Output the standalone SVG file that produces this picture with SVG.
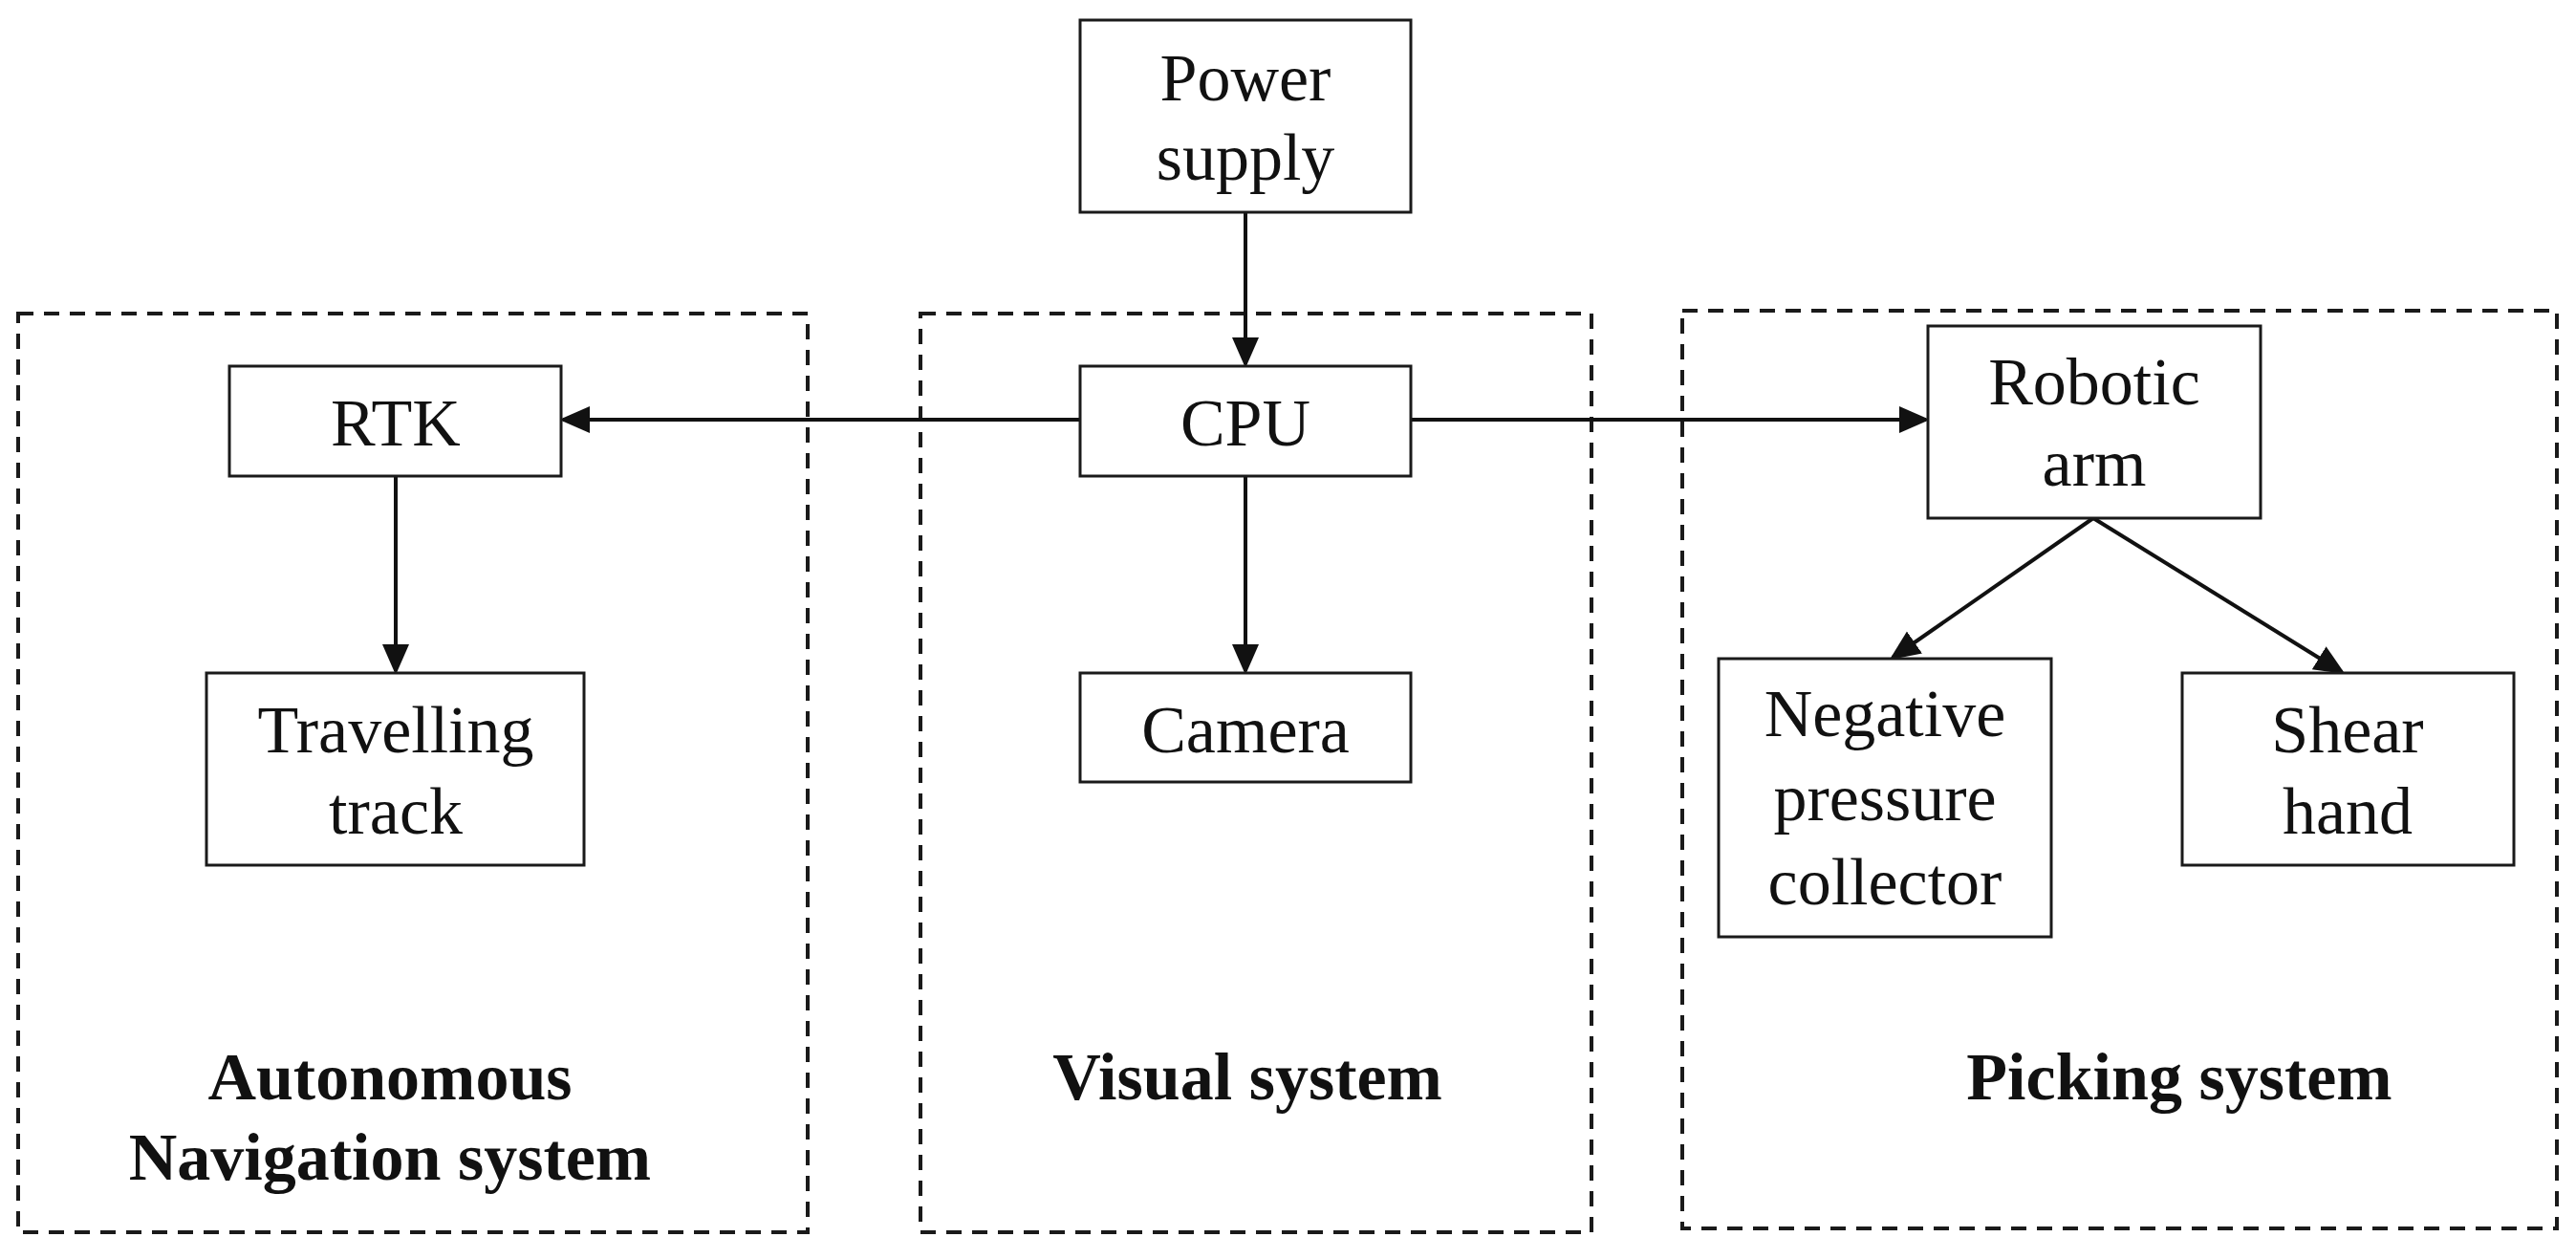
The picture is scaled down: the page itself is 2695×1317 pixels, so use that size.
<svg xmlns="http://www.w3.org/2000/svg" width="2695" height="1317" viewBox="0 0 2695 1317">
<style>
.n{fill:#fff;stroke:#1a1a1a;stroke-width:3}
.g{fill:none;stroke:#1a1a1a;stroke-width:4;stroke-dasharray:16 11}
.t{font-family:"Liberation Serif",serif;font-size:70px;fill:#111;text-anchor:middle}
.b{font-family:"Liberation Serif",serif;font-size:70px;font-weight:bold;fill:#111;text-anchor:middle}
.c{stroke:#111;stroke-width:4;fill:none;marker-end:url(#a)}
</style>
<defs><marker id="a" markerWidth="8" markerHeight="8" refX="7" refY="4" orient="auto" markerUnits="strokeWidth"><path d="M0,0.5 L8,4 L0,7.5 Z" fill="#111"/></marker></defs>
<rect width="2695" height="1317" fill="#fff"/>
<g id="group-nav"><rect class="g" x="19" y="328" width="826" height="961"/><text class="b" x="408" y="1150">Autonomous</text><text class="b" x="408" y="1234">Navigation system</text></g>
<g id="group-visual"><rect class="g" x="963" y="328" width="702" height="961"/><text class="b" x="1305" y="1150">Visual system</text></g>
<g id="group-picking"><rect class="g" x="1760" y="325" width="915" height="960"/><text class="b" x="2280" y="1150">Picking system</text></g>
<g id="connectors">
<line class="c" x1="1303" y1="222" x2="1303" y2="381"/>
<line class="c" x1="1130" y1="439" x2="589" y2="439"/>
<line class="c" x1="1476" y1="439" x2="2015" y2="439"/>
<line class="c" x1="414" y1="498" x2="414" y2="702"/>
<line class="c" x1="1303" y1="498" x2="1303" y2="702"/>
<line class="c" x1="2190" y1="542" x2="1980" y2="688"/>
<line class="c" x1="2190" y1="542" x2="2450" y2="703"/>
</g>
<g id="power"><rect class="n" x="1130" y="21" width="346" height="201"/><text class="t" x="1303" y="105">Power</text><text class="t" x="1303" y="188">supply</text></g>
<g id="rtk"><rect class="n" x="240" y="383" width="347" height="115"/><text class="t" x="414" y="466">RTK</text></g>
<g id="cpu"><rect class="n" x="1130" y="383" width="346" height="115"/><text class="t" x="1303" y="466">CPU</text></g>
<g id="track"><rect class="n" x="216" y="704" width="395" height="201"/><text class="t" x="414" y="787">Travelling</text><text class="t" x="414" y="872">track</text></g>
<g id="camera"><rect class="n" x="1130" y="704" width="346" height="114"/><text class="t" x="1303" y="787">Camera</text></g>
<g id="arm"><rect class="n" x="2017" y="341" width="348" height="201"/><text class="t" x="2191" y="423">Robotic</text><text class="t" x="2191" y="508">arm</text></g>
<g id="negative"><rect class="n" x="1798" y="689" width="348" height="291"/><text class="t" x="1972" y="770">Negative</text><text class="t" x="1972" y="858">pressure</text><text class="t" x="1972" y="946">collector</text></g>
<g id="shear"><rect class="n" x="2283" y="704" width="347" height="201"/><text class="t" x="2456" y="787">Shear</text><text class="t" x="2456" y="872">hand</text></g>
</svg>
